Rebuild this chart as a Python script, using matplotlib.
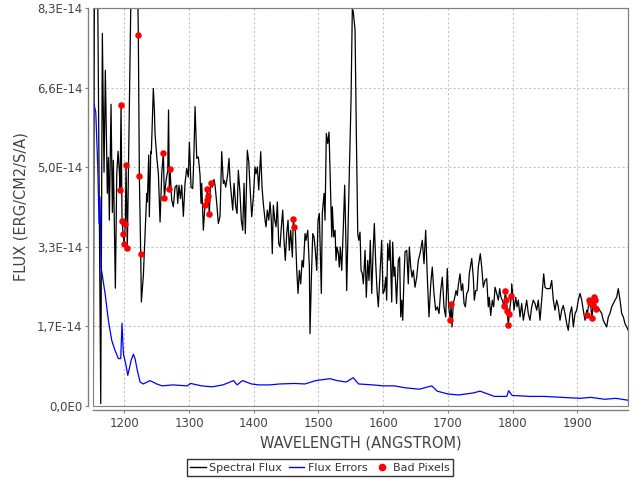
import numpy as np
import matplotlib
matplotlib.use("Agg")
import matplotlib.pyplot as plt
from matplotlib.lines import Line2D
from matplotlib.patches import Rectangle

SCALE = 1e-14

flux_wave = [
    1152.1, 1153.8, 1156.7, 1163.5, 1166.0, 1168.6, 1170.6, 1173.7, 1175.3, 1176.8,
    1179.4, 1181.5, 1183.0, 1186.1, 1188.3, 1190.3, 1192.3, 1193.4, 1194.9, 1196.4,
    1198.0, 1199.5, 1201.5, 1202.6, 1204.6, 1215.8, 1221.6, 1223.2, 1225.3, 1226.3,
    1229.4, 1234.6, 1235.5, 1237.7, 1238.6, 1240.8, 1241.7, 1244.8, 1246.4, 1247.4,
    1250.1, 1252.6, 1255.2, 1257.8, 1260.3, 1261.8, 1264.5, 1267.1, 1268.3, 1269.6,
    1270.6, 1273.2, 1275.7, 1278.4, 1281.0, 1282.5, 1284.5, 1286.6, 1288.7, 1291.2,
    1293.8, 1296.4, 1298.9, 1300.5, 1303.1, 1305.7, 1307.3, 1309.3, 1311.9, 1314.4,
    1317.0, 1318.5, 1319.6, 1322.1, 1324.3, 1325.2, 1327.4, 1328.3, 1329.8, 1331.4,
    1332.5, 1334.0, 1336.0, 1338.6, 1340.2, 1342.8, 1344.4, 1345.3, 1347.9, 1350.5,
    1353.0, 1354.6, 1356.7, 1359.8, 1361.8, 1363.4, 1366.0, 1367.5, 1369.6, 1372.2,
    1374.2, 1376.2, 1378.8, 1380.8, 1383.0, 1385.0, 1387.0, 1390.1, 1392.3, 1394.3,
    1396.9, 1399.4, 1402.0, 1403.6, 1405.6, 1407.7, 1410.8, 1412.8, 1414.8, 1417.5,
    1419.0, 1421.0, 1423.2, 1425.2, 1427.2, 1428.7, 1430.3, 1432.5, 1434.5, 1436.5,
    1438.6, 1440.6, 1442.7, 1444.8, 1446.8, 1448.8, 1451.0, 1453.0, 1455.0, 1457.2,
    1459.7, 1461.2, 1462.8, 1464.3, 1466.5, 1468.5, 1470.5, 1472.6, 1474.7, 1476.7,
    1479.3, 1480.8, 1483.5, 1486.0, 1487.0, 1489.0, 1491.2, 1493.2, 1495.2, 1497.4,
    1499.4, 1501.4, 1504.5, 1506.0, 1508.7, 1510.2, 1512.2, 1514.4, 1516.4, 1518.4,
    1520.6, 1521.5, 1523.6, 1525.7, 1527.2, 1528.8, 1530.8, 1532.3, 1533.8, 1536.0,
    1538.5, 1540.6, 1542.2, 1543.7, 1546.2, 1548.8, 1550.4, 1552.4, 1553.9, 1556.6,
    1558.6, 1560.8, 1562.3, 1564.3, 1565.9, 1567.9, 1569.4, 1572.1, 1574.0, 1576.2,
    1578.2, 1580.2, 1582.4, 1584.4, 1586.4, 1588.6, 1590.6, 1592.6, 1595.2, 1597.8,
    1599.8, 1601.9, 1604.0, 1605.5, 1607.1, 1609.1, 1610.6, 1613.3, 1614.8, 1616.7,
    1618.2, 1620.8, 1623.5, 1625.5, 1627.2, 1628.8, 1630.3, 1632.3, 1633.9, 1636.5,
    1638.9, 1640.5, 1642.7, 1644.7, 1646.7, 1649.3, 1651.9, 1654.4, 1657.0, 1660.6,
    1663.2, 1665.8, 1668.3, 1670.9, 1673.6, 1676.0, 1678.6, 1681.3, 1683.8, 1686.4,
    1689.0, 1691.5, 1694.1, 1696.7, 1699.2, 1701.4, 1703.9, 1705.0, 1706.5, 1708.5,
    1710.7, 1712.7, 1714.7, 1716.2, 1718.9, 1720.9, 1723.0, 1725.1, 1727.1, 1729.2,
    1731.7, 1733.2, 1737.0, 1739.4, 1741.0, 1743.1, 1745.1, 1747.1, 1750.2, 1752.4,
    1754.9, 1757.5, 1760.1, 1762.6, 1764.1, 1766.3, 1768.8, 1770.9, 1773.0, 1775.6,
    1778.1, 1780.2, 1782.2, 1784.2, 1785.8, 1787.3, 1788.9, 1790.4, 1792.0, 1793.5,
    1795.1, 1798.2, 1798.8, 1801.2, 1802.3, 1805.0, 1807.0, 1809.0, 1811.6, 1814.2,
    1816.7, 1819.3, 1821.9, 1824.4, 1827.0, 1829.7, 1832.1, 1834.8, 1837.4, 1839.9,
    1842.5, 1845.1, 1848.2, 1850.2, 1852.8, 1855.3, 1858.0, 1860.6, 1863.1, 1865.7,
    1868.3, 1870.8, 1873.4, 1876.0, 1878.5, 1881.1, 1883.8, 1886.2, 1888.9, 1891.5,
    1894.0, 1896.6, 1899.2, 1901.7, 1904.4, 1907.0, 1909.4, 1912.1, 1914.7, 1915.6,
    1917.2, 1918.7, 1920.5, 1922.8, 1924.4, 1926.5, 1927.0, 1929.6, 1931.6, 1934.7,
    1937.9, 1940.3, 1943.0, 1945.6, 1948.1, 1950.7, 1953.3, 1955.8, 1958.4, 1961.0,
    1963.5, 1966.2, 1968.8, 1971.3, 1973.9, 1976.5, 1979.0,
]

# spectral flux, units of 1e-14 erg/cm2/s/A
flux_vals = [
    0.36, 9.2, 12.5, 0.04, 7.77, 4.87, 7.00, 4.43, 5.18, 3.87,
    6.29, 4.03, 5.12, 2.45, 4.85, 5.31, 4.87, 4.50, 6.27, 3.85,
    3.59, 3.38, 3.78, 5.02, 3.28, 13.9, 7.74, 4.79, 3.16, 2.16,
    2.72, 4.43, 4.25, 5.23, 3.94, 5.30, 5.26, 6.62, 6.17, 5.68,
    5.19, 4.84, 3.83, 4.84, 5.28, 4.34, 4.70, 4.91, 6.17, 4.52,
    4.93, 4.29, 4.15, 4.56, 4.60, 4.22, 4.60, 4.32, 4.60, 3.95,
    4.64, 4.95, 4.77, 5.50, 4.56, 4.53, 5.12, 6.24, 5.16, 5.19,
    4.81, 4.22, 4.64, 3.66, 4.12, 4.18, 4.30, 4.53, 4.37, 3.99,
    4.43, 4.65, 4.56, 4.72, 4.60, 4.22, 3.94, 3.80, 3.95, 5.30,
    4.64, 4.70, 4.56, 4.84, 5.16, 4.70, 4.29, 4.08, 4.64, 4.15,
    4.01, 4.91, 4.43, 3.87, 3.66, 4.64, 3.59, 5.33, 5.09, 4.56,
    3.94, 4.35, 4.98, 4.84, 4.98, 4.50, 5.30, 4.56, 4.22, 3.87,
    3.73, 4.08, 3.87, 4.25, 3.87, 3.17, 4.18, 3.87, 3.73, 4.25,
    3.38, 3.31, 3.73, 4.08, 3.45, 3.03, 3.59, 3.87, 3.24, 3.66,
    3.10, 3.90, 3.72, 3.66, 2.82, 2.34, 2.82, 2.54, 3.03, 2.89,
    3.59, 3.45, 3.66, 2.89, 1.50, 2.61, 3.59, 3.52, 3.24, 2.82,
    3.87, 4.01, 2.34, 4.01, 4.43, 3.87, 5.68, 5.47, 5.71, 4.70,
    3.52, 4.15, 3.52, 3.66, 3.03, 3.31, 3.17, 2.89, 3.31, 2.82,
    3.73, 4.60, 3.59, 2.40, 3.94, 5.40, 6.38, 8.29, 8.22, 7.84,
    5.68, 3.59, 3.45, 3.62, 2.82, 2.75, 2.54, 3.24, 2.26, 3.03,
    2.61, 3.45, 2.34, 3.17, 3.80, 2.96, 2.40, 2.06, 2.75, 3.45,
    2.34, 2.40, 2.68, 2.20, 3.38, 3.03, 3.45, 2.16, 3.41, 2.70,
    2.89, 2.13, 3.03, 3.10, 1.85, 2.20, 1.78, 2.68, 3.21, 3.24,
    2.54, 3.31, 2.89, 2.68, 2.82, 2.47, 2.68, 3.03, 3.17, 3.45,
    2.96, 3.66, 2.68, 1.85, 2.54, 2.89, 2.34, 1.99, 2.06, 1.92,
    2.40, 2.68, 2.06, 1.85, 2.86, 2.06, 1.79, 2.11, 1.64, 2.13,
    2.26, 2.40, 2.30, 2.51, 2.75, 2.40, 2.54, 2.13, 2.06, 2.34,
    2.40, 2.75, 3.07, 2.68, 2.20, 2.40, 2.40, 2.89, 3.17, 2.89,
    2.47, 2.61, 2.65, 2.06, 2.26, 1.88, 2.20, 2.06, 2.47, 2.34,
    2.20, 2.44, 2.26, 2.20, 2.13, 2.08, 2.40, 2.21, 1.97, 1.68,
    1.92, 2.29, 2.54, 2.20, 1.99, 2.26, 2.06, 2.20, 1.85, 2.13,
    1.78, 1.99, 2.20, 1.92, 1.78, 2.06, 2.20, 2.13, 1.99, 2.20,
    1.78, 2.20, 2.75, 2.47, 2.44, 2.44, 2.44, 2.61, 2.20, 1.99,
    2.20, 2.06, 1.78, 1.99, 2.09, 1.92, 1.71, 1.57, 1.92, 2.06,
    1.64, 1.92, 1.99, 2.20, 2.34, 2.20, 1.99, 1.78, 1.99, 1.90,
    2.06, 2.20, 2.14, 1.82, 2.09, 2.26, 2.21, 2.02, 2.06, 1.99,
    1.92, 1.78, 1.71, 1.64, 1.85, 1.92, 2.06, 2.13, 2.20, 2.26,
    2.44, 2.20, 1.92, 1.85, 1.71, 1.64, 1.57,
]

err_wave = [
    1152.1, 1155.8, 1158.9, 1160.9, 1162.4, 1164.0, 1170.2, 1175.3, 1180.5, 1185.6,
    1190.7, 1194.4, 1196.4, 1198.5, 1202.6, 1205.3, 1207.7, 1210.4, 1213.9, 1216.5,
    1220.1, 1224.3, 1229.4, 1239.7, 1250.0, 1258.4, 1275.1, 1297.1, 1302.6, 1319.2,
    1335.7, 1352.4, 1368.9, 1374.3, 1382.7, 1396.4, 1407.6, 1424.1, 1440.6, 1462.8,
    1479.3, 1495.8, 1517.9, 1528.9, 1542.8, 1553.8, 1562.1, 1584.2, 1600.8, 1617.3,
    1633.9, 1655.9, 1675.3, 1683.5, 1700.2, 1716.7, 1738.8, 1749.8, 1771.9, 1791.2,
    1794.0, 1799.4, 1827.1, 1849.2, 1876.7, 1904.3, 1920.9, 1943.0, 1959.5, 1978.8,
]
err_vals = [
    6.34, 6.13, 4.98, 3.80, 4.35, 2.89, 2.34, 1.78, 1.36, 1.15,
    0.98, 0.98, 1.72, 1.08, 0.84, 0.63, 0.77, 0.94, 1.07, 0.98,
    0.73, 0.49, 0.45, 0.52, 0.45, 0.41, 0.43, 0.41, 0.46, 0.41,
    0.39, 0.43, 0.52, 0.43, 0.52, 0.45, 0.43, 0.43, 0.45, 0.46,
    0.45, 0.52, 0.56, 0.52, 0.49, 0.58, 0.45, 0.43, 0.41, 0.41,
    0.37, 0.34, 0.41, 0.30, 0.24, 0.22, 0.26, 0.30, 0.19, 0.19,
    0.31, 0.21, 0.19, 0.19, 0.17, 0.15, 0.17, 0.13, 0.15, 0.11,
]

bad_wave = [
    1193.4, 1194.9, 1196.4, 1198.0, 1199.5, 1201.5, 1202.6, 1204.6, 1221.6, 1223.2,
    1225.3, 1260.3, 1261.8, 1269.6, 1270.6, 1325.2, 1327.4, 1328.3, 1329.8, 1331.4,
    1334.0, 1461.2, 1462.8, 1703.9, 1705.0, 1787.3, 1788.9, 1790.4, 1792.0, 1793.5,
    1795.1, 1798.2, 1915.6, 1918.7, 1920.5, 1922.8, 1924.4, 1926.5, 1927.0, 1929.6,
]
bad_vals = [
    4.50, 6.27, 3.85, 3.59, 3.38, 3.78, 5.02, 3.28, 7.74, 4.79,
    3.16, 5.28, 4.34, 4.52, 4.93, 4.18, 4.30, 4.53, 4.37, 3.99,
    4.65, 3.90, 3.72, 1.79, 2.11, 2.08, 2.40, 2.21, 1.97, 1.68,
    1.92, 2.29, 1.90, 2.20, 2.14, 1.82, 2.09, 2.26, 2.21, 2.02,
]

x_ticks = [1200, 1300, 1400, 1500, 1600, 1700, 1800, 1900]
y_tick_labels = ["0,0E0", "1,7E-14", "3,3E-14", "5,0E-14", "6,6E-14", "8,3E-14"]
x_range = (1152.0, 1979.0)
y_max = 8.3e-14

W, H = 640, 480
fig = plt.figure(figsize=(W / 100, H / 100), dpi=100)
left_px, right_px, top_px, bot_px = 93.3, 628.3, 8.0, 405.5
ax = fig.add_axes([left_px / W, 1 - bot_px / H, (right_px - left_px) / W, (bot_px - top_px) / H])

ax.plot(flux_wave, np.array(flux_vals) * SCALE, color="black", lw=0.9, zorder=3)
ax.plot(err_wave, np.array(err_vals) * SCALE, color="#0000ff", lw=0.9, zorder=3)
ax.scatter(bad_wave, np.array(bad_vals) * SCALE, s=22, color="#ff0000", linewidths=0, zorder=4)

ax.set_xlim(*x_range)
ax.set_ylim(0, y_max)
ax.set_xticks(x_ticks)
ax.set_xticklabels([str(t) for t in x_ticks])
ax.set_yticks([i * y_max / 5 for i in range(6)])
ax.set_yticklabels(y_tick_labels)

ax.grid(True, color="#c4c4c4", linestyle=(0, (2, 2)), linewidth=0.8, zorder=1)
ax.set_axisbelow(True)

gray = "#808080"
for side in ["top", "right"]:
    ax.spines[side].set_color(gray)
    ax.spines[side].set_linewidth(0.8)
for side in ["left", "bottom"]:
    ax.spines[side].set_position(("outward", 3.5))
    ax.spines[side].set_color(gray)
    ax.spines[side].set_linewidth(1.0)
ax.add_patch(Rectangle((0, 0), 1, 1, transform=ax.transAxes, fill=False,
                       edgecolor=gray, linewidth=0.8, clip_on=False, zorder=5))

ax.tick_params(axis="both", direction="out", length=2.5, width=0.8, color=gray,
               labelsize=8.5, labelcolor="#444444", pad=2)

fig.text(((left_px + right_px) / 2) / W, 1 - 443 / H, "WAVELENGTH (ANGSTROM)",
         ha="center", va="center", fontsize=10.5, color="#444444")
fig.text(21 / W, 1 - ((top_px + bot_px) / 2) / H, "FLUX (ERG/CM2/S/A)",
         ha="center", va="center", rotation=90, fontsize=10.5, color="#444444")

handles = [
    Line2D([], [], color="black", lw=1.0),
    Line2D([], [], color="#0000ff", lw=1.0),
    Line2D([], [], color="#ff0000", marker="o", linestyle="none", markersize=4.5),
]
leg = fig.legend(handles, ["Spectral Flux", "Flux Errors", "Bad Pixels"],
                 loc="lower center", bbox_to_anchor=(0.5, 0.008), ncol=3,
                 fontsize=8, frameon=True, fancybox=False, edgecolor="black",
                 handlelength=1.4, handletextpad=0.3, columnspacing=0.6,
                 borderpad=0.3, borderaxespad=0)
leg.get_frame().set_linewidth(1.0)
for t in leg.get_texts():
    t.set_color("#333333")

fig.savefig("out.png", dpi=100, facecolor="white")
